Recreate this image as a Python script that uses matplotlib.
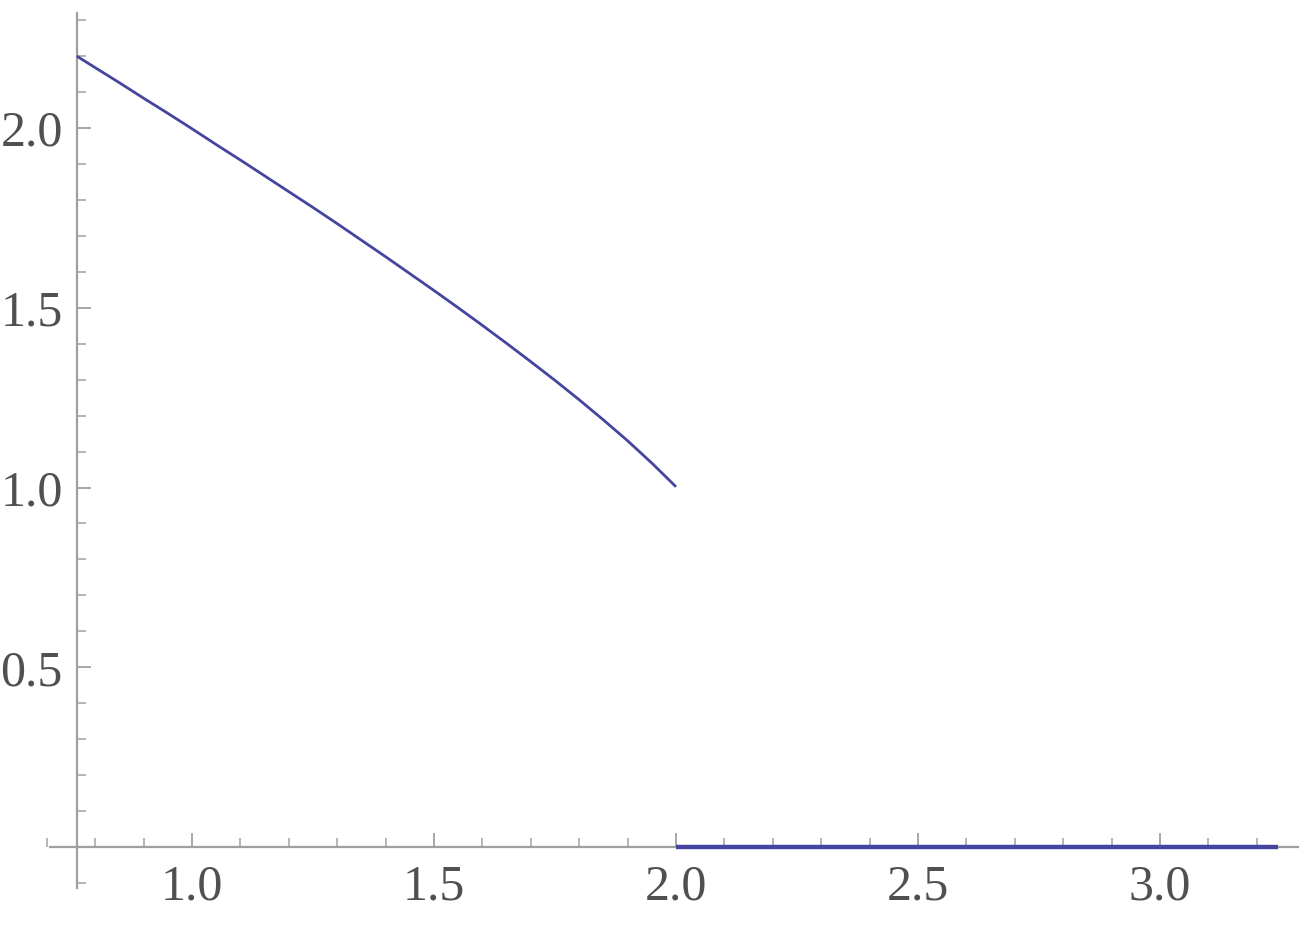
import matplotlib.pyplot as plt
from matplotlib.ticker import MultipleLocator

# piecewise curve
x_curve = [0.762, 0.80, 0.85, 0.90, 0.95, 1.00, 1.05, 1.10, 1.15, 1.20, 1.25, 1.30, 1.35,
           1.40, 1.45, 1.50, 1.55, 1.60, 1.65, 1.70, 1.75, 1.80, 1.85, 1.90, 1.95, 2.00]
y_curve = [2.200, 2.168, 2.126, 2.083, 2.041, 1.998, 1.954, 1.911, 1.867, 1.823, 1.779,
           1.734, 1.688, 1.642, 1.595, 1.548, 1.500, 1.451, 1.401, 1.350, 1.298, 1.244,
           1.188, 1.130, 1.068, 1.002]
x_flat = [2.0, 3.244]
y_flat = [0.0, 0.0]

x_ticks = [1.0, 1.5, 2.0, 2.5, 3.0]
y_ticks = [0.5, 1.0, 1.5, 2.0]

line_color = '#4545a0'
axis_color = '#a0a0a0'
text_color = '#505050'

fig = plt.figure(figsize=(13.08, 9.25), dpi=100)
ax = fig.add_axes([0.0358, 0.0377, 0.9584, 0.9521])

ax.plot(x_curve, y_curve, color=line_color, lw=2.0, solid_capstyle='butt',
        solid_joinstyle='round', zorder=3)
ax.plot(x_flat, y_flat, color=line_color, lw=3.2, solid_capstyle='butt', zorder=3)

ax.set_xlim(0.70, 3.29)
ax.set_ylim(-0.12, 2.33)

for side in ('top', 'right'):
    ax.spines[side].set_visible(False)
ax.spines['left'].set_position(('data', 0.762))
ax.spines['bottom'].set_position(('data', 0.0))
ax.spines['left'].set_bounds(-0.114, 2.32)
ax.spines['bottom'].set_bounds(0.706, 3.285)
for side in ('left', 'bottom'):
    ax.spines[side].set_color(axis_color)
    ax.spines[side].set_linewidth(1.6)

ax.set_xticks(x_ticks)
ax.set_yticks(y_ticks)
ax.xaxis.set_minor_locator(MultipleLocator(0.1))
ax.yaxis.set_minor_locator(MultipleLocator(0.1))
ax.set_xticklabels([f'{v:.1f}' for v in x_ticks])
ax.set_yticklabels([f'{v:.1f}' for v in y_ticks])

ax.tick_params(which='major', direction='in', length=10, width=1.3,
               color=axis_color, labelcolor=text_color, labelsize=36)
ax.tick_params(which='minor', direction='in', length=6.5, width=1.1,
               color=axis_color)
ax.tick_params(axis='x', which='major', pad=12)
ax.tick_params(axis='y', which='major', pad=10)
for lbl in ax.get_xticklabels() + ax.get_yticklabels():
    lbl.set_family('Liberation Serif')

fig.savefig('out.png', dpi=100)
